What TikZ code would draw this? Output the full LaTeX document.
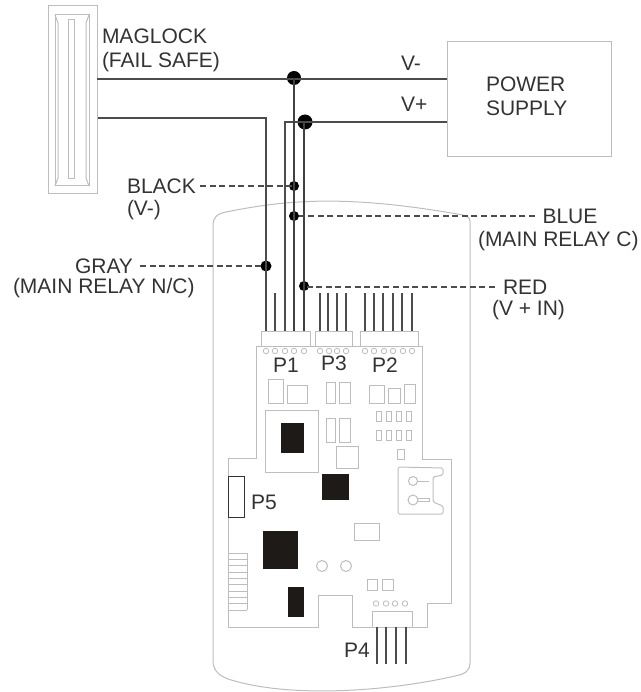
\documentclass[tikz,border=0pt]{standalone}
\usepackage{fontspec}
\setmainfont{Liberation Sans}
\usetikzlibrary{calc}
\definecolor{txt}{HTML}{333333}
\definecolor{wire}{HTML}{4C4C4C}
\definecolor{lite}{HTML}{BDBDBD}
\definecolor{chip}{HTML}{1E1A18}
\tikzset{
  x=1pt,y=-1pt,
  lab/.style={font=\fontsize{21}{23.5}\selectfont,text=txt,inner sep=0pt,outer sep=0pt,anchor=base west},
  wirel/.style={draw=wire,line width=1.9pt},
  thin wire/.style={draw=wire!85!black,line width=1.4pt},
  dashl/.style={draw=wire,line width=1.3pt,dash pattern=on 6pt off 3.6pt},
  board/.style={draw=lite,line width=1pt},
  part/.style={draw=lite,line width=1pt},
  chipb/.style={fill=chip,draw=none},
  dotn/.style={circle,fill=black,draw=none,inner sep=0pt,minimum size=#1},
  hole/.style={circle,draw=lite,line width=.8pt,inner sep=0pt,minimum size=5.5pt},
}
\newcommand{\Rect}[5][part]{\draw[#1] (#2,#3) rectangle (#4,#5);}
\begin{document}
\begin{tikzpicture}
\useasboundingbox (0,0) rectangle (640,692);
% maglock
\Rect[draw=lite,line width=1pt]{48}{6}{97}{194}
\draw[part] (55,15) -- (89,15) -- (89,186) -- (55,186) -- cycle;
\draw[part] (55,15) -- (58,23) -- (58,178) -- (55,186);
\draw[part] (89,15) -- (86,23) -- (86,178) -- (89,186);
\Rect{68}{20}{74}{179}
% housing
\draw[board] (213,226) .. controls (213,218) and (216,214) .. (226,212)
  .. controls (290,199) and (350,195) .. (463,215)
  .. controls (468,216) and (470,218) .. (470,222) -- (470,663)
  .. controls (470,670) and (466,674) .. (455,676)
  .. controls (390,691) and (290,699) .. (228,679)
  .. controls (218,675) and (213,670) .. (213,660) -- cycle;
% board
\draw[board] (256,346) -- (422,346) -- (422,459) -- (451,459) -- (451,603) -- (427,603) -- (427,627) -- (352,627) -- (352,595) -- (318,595) -- (318,627) -- (228,627) -- (228,458) -- (256,458) -- cycle;
% connector housings
\Rect{261}{331}{310}{346}
\Rect{315}{331}{352}{346}
\Rect{360}{331}{418}{346}
\Rect{372}{611}{412}{627}
% holes
\foreach \x in {266,275,285,294,304,320,329,337,346,365,374,384,393,403,412}
  \node[hole] at (\x,351) {};
\foreach \x in {376,386,395,405}
  \node[hole] at (\x,603.5) {};
% components
\Rect{268}{379}{283}{403}
\Rect{287}{385}{307}{403}
\Rect{326}{382}{335}{403}
\Rect{339}{382}{350}{403}
\Rect{369}{385}{384}{403}
\Rect{388}{388}{400}{403}
\Rect{404}{384}{415}{403}
\foreach \x in {376,386,396,406}{
  \Rect{\x}{411}{\x+5}{421}
  \Rect{\x}{430}{\x+5}{440}
}
\Rect{397}{449}{404}{459}
\Rect{265}{410}{318}{472}
\Rect{326}{418}{335}{442}
\Rect{339}{418}{350}{442}
\Rect{336}{446}{358}{468}
\Rect{354}{523}{379}{540}
\Rect{367}{579}{377}{590}
\Rect{382}{579}{393}{590}
\draw[part] (322,566) circle (5.5);
\draw[part] (346,566) circle (5.5);
\foreach \y in {553,559.3,565.6,572,578.3,584.6,591,597.3,603.6,610}
  \draw[part,line width=.8pt] (228,\y) -- (247,\y);
\draw[part,line width=.8pt] (247,553) -- (247,610);
% chips
\fill[chip] (281,423) rectangle (304,453);
\fill[chip] (322,474) rectangle (349,500);
\fill[chip] (263,531) rectangle (298,569);
\fill[chip] (288,587) rectangle (304,617);
% battery holder
\draw[part,rounded corners=1.5pt] (398,467) -- (443,468) -- (443,475) -- (433,477) -- (433,502) -- (443,506) -- (443,514) -- (398,514) -- cycle;
\draw[part] (413,481) circle (4.5);
\draw[part] (417.5,481) -- (429,481);
\draw[part] (413,500) circle (5);
\draw[part] (418,498) -- (429,498) -- (429,501) -- (418,501);
% P5
\draw[draw=txt,line width=1pt] (228,476) rectangle (244,517);
% supply
\node[draw=lite,line width=1pt,minimum width=164pt,minimum height=115pt,inner sep=0pt,anchor=north west] (psu) at (447,41) {};
\node[lab] (tpower) at (486,92) {POWER};
\node[lab] (tsupply) at (486,116) {SUPPLY};
% named wire points
\coordinate (m1) at (97,79);
\coordinate (m2) at (98,118);
\coordinate (s1) at (447,79);
\coordinate (s2) at (447,122);
\coordinate (c1) at (266,118);
\coordinate (c2) at (285,122);
\coordinate (p11) at (266,331);
\coordinate (p12) at (275,331);
\coordinate (p12t) at (275,293);
\coordinate (p13) at (285,331);
\coordinate (p14) at (294,331);
\coordinate (p15) at (304,331);
\node[dotn=14pt] (jn) at (294,78) {};
\node[dotn=15pt] (jp) at (305,122) {};
\node[dotn=10pt] (dblack) at (294,186) {};
\node[dotn=10pt] (dblue) at (294,216) {};
\node[dotn=11pt] (dgray) at (266,266) {};
\node[dotn=10pt] (dred) at (304,286) {};
% wires
\draw[wirel] (m1) -- (s1);
\draw[wirel] (s2) -- (c2) -- (p13);
\draw[wirel] (m2) -- (c1) -- (p11);
\draw[thin wire] (jn.center) -- (p14);
\draw[thin wire] (jp.center) ++(-1,0) -- (p15);
\draw[wirel] (p12t) -- (p12);
\foreach \x in {320,328,337,346,365,374,383,393,402,412}
  \draw[wirel] (\x,293) -- (\x,331);
\foreach \x in {377,386,396,406}
  \draw[wirel] (\x,627) -- (\x,664);
% labels
\node[lab] (tmag) at (102,43.5) {MAGLOCK};
\node[lab] (tfs) at (102,67.5) {(FAIL SAFE)};
\node[lab] (tvm) at (401,71) {V-};
\node[lab] (tvp) at (401,112) {V+};
\node[lab] (tblack) at (127,194) {BLACK};
\node[lab] (tvm2) at (127,216) {(V-)};
\node[lab] (tgray) at (75,273) {GRAY};
\node[lab] (tnc) at (13,293) {(MAIN RELAY N/C)};
\node[lab] (tblue) at (542.5,224) {BLUE};
\node[lab] (tc) at (478,247) {(MAIN RELAY C)};
\node[lab] (tred) at (503,294) {RED};
\node[lab] (tin) at (492,315) {(V + IN)};
\node[lab] (tp1) at (273,372) {P1};
\node[lab] (tp3) at (321,370) {P3};
\node[lab] (tp2) at (372,372) {P2};
\node[lab] (tp5) at (251,509) {P5};
\node[lab] (tp4) at (344,657) {P4};
% leader ends
\coordinate (lblack) at (200,186);
\coordinate (lblue) at (535,216);
\coordinate (lgray) at (140,266);
\coordinate (lred) at (495,287);
\draw[dashl] (lblack) -- (dblack.center);
\draw[dashl] (lblue) -- (dblue.center |- lblue);
\draw[dashl] (lgray) -- (dgray.center);
\draw[dashl] (lred) -- (dred.center |- lred);
\end{tikzpicture}
\end{document}
